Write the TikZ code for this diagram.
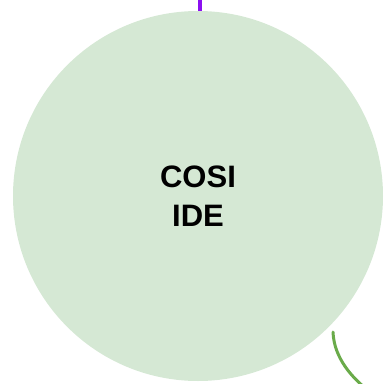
\documentclass[tikz,border=0pt]{standalone}
\usepackage{fontspec}
\setmainfont{Liberation Sans}
\definecolor{cfill}{HTML}{D5E8D4}
\definecolor{cpurple}{HTML}{8B10F0}
\definecolor{cgreen}{HTML}{6AAB4A}
\begin{document}
\begin{tikzpicture}[x=1pt,y=-1pt,
  bubble/.style={circle,fill=cfill,draw=none,minimum size=370pt,inner sep=0pt,align=center,
    font=\fontsize{31}{39}\selectfont\bfseries},
  purpleline/.style={draw=cpurple,line width=4pt},
  greenline/.style={draw=cgreen,line width=3pt,line cap=round}]
\useasboundingbox (0,0) rectangle (384,384);
\node[bubble] (c) at (198,196) {COSI\\IDE};
\coordinate (top) at (199.5,-2);
\coordinate (g1) at (333,332);
\coordinate (g2) at (370,392);
\draw[purpleline] (top |- c.north) -- (top);
\draw[greenline] (g1) .. controls (334,358) and (352,378) .. (g2);
\end{tikzpicture}
\end{document}
